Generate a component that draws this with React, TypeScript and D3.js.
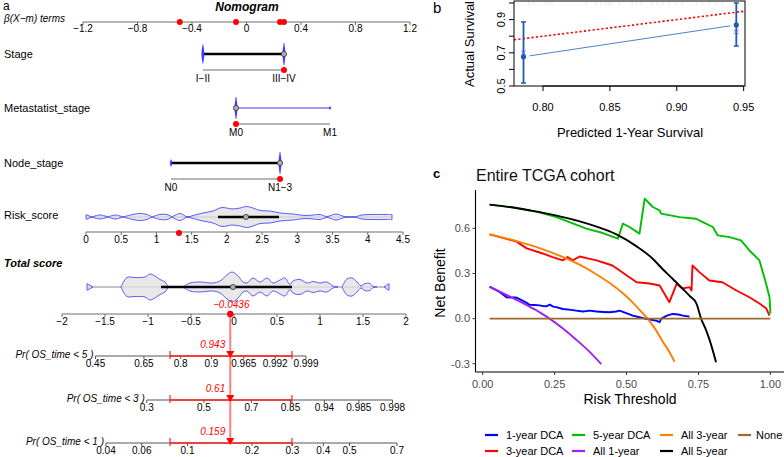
import React from "react";
import * as d3 from "d3";

const FONT = "'Liberation Sans', Arial, Helvetica, sans-serif";

// ---------------- Panel a : nomogram data ----------------
const betaTicks = [-1.2, -0.8, -0.4, 0, 0.4, 0.8, 1.2];
const betaSelected = [-0.49, -0.077, 0.246, 0.275];

const stageLevels = ["I−II", "III−IV"];
const stageBeta = [-0.32, 0.275];
const stageDensity = [9.5, 11];
const stageSel = 1;

const metLevels = ["M0", "M1"];
const metBeta = [-0.077, 0.613];
const metDensity = [11, 1.5];
const metSel = 0;

const nodeLevels = ["N0", "N1−3"];
const nodeBeta = [-0.554, 0.246];
const nodeDensity = [3.5, 11];
const nodeSel = 1;

const riskTicks = [0, 0.5, 1, 1.5, 2, 2.5, 3, 3.5, 4, 4.5];
const riskValue = 1.32;
const riskBox = [1.874, 2.271, 2.74];
const riskViolin: [number, number][] = [
  [0, 2.3], [0.085, 0], [0.199, 2], [0.312, 0], [0.412, 2], [0.525, 0],
  [0.667, 2.5], [0.767, 3.5], [0.866, 2.5], [0.937, 0], [1.05, 2.5], [1.15, 2.5],
  [1.221, 0], [1.334, 3.5], [1.434, 0.3], [1.547, 2], [1.661, 4], [1.803, 6],
  [1.931, 9.5], [2.073, 8], [2.186, 9], [2.286, 10.5], [2.371, 9], [2.47, 6.5],
  [2.612, 6], [2.754, 4], [2.939, 3], [3.109, 1.5], [3.223, 2], [3.322, 2.5],
  [3.421, 0.5], [3.549, 3], [3.677, 0.3], [3.819, 0], [3.918, 2], [4.032, 2.5],
  [4.245, 2.5], [4.344, 2.5],
];

const totalTicks = [-2, -1.5, -1, -0.5, 0, 0.5, 1, 1.5, 2];
const totalValue = -0.0436;
const totalCI = [-0.744, 0.674];
const totalBox = [-0.849, -0.012, 0.674];
const totalViolin: [number, number][] = [
  [-1.709, 3.3], [-1.64, 0], [-1.314, 0], [-1.244, 9.5], [-1.151, 9.5], [-1.035, 10],
  [-0.977, 13], [-0.919, 11], [-0.86, 7.5], [-0.802, 5], [-0.767, 0], [-0.593, 0],
  [-0.512, 4], [-0.395, 5], [-0.244, 4], [-0.163, 6], [-0.081, 12], [-0.023, 15],
  [0.047, 11], [0.105, 5], [0.151, 4], [0.221, 9], [0.302, 5], [0.384, 9],
  [0.453, 4], [0.535, 7], [0.593, 9], [0.651, 2.5], [0.686, 6], [0.767, 7.5],
  [0.849, 4], [0.919, 5.5], [1.0, 4], [1.081, 5], [1.151, 1], [1.209, 0],
  [1.256, 0], [1.314, 8], [1.372, 9], [1.43, 5], [1.477, 1], [1.523, 3.5],
  [1.581, 3.5], [1.616, 0.5], [1.663, 0], [1.744, 0], [1.802, 3.3],
];

const prLabels = ["Pr( OS_time < 5 )", "Pr( OS_time < 3 )", "Pr( OS_time < 1 )"];
const prTicks5 = [0.45, 0.65, 0.8, 0.9, 0.965, 0.992, 0.999];
const prTicks3 = [0.3, 0.5, 0.7, 0.85, 0.94, 0.985, 0.998];
const prTicks1 = [0.04, 0.06, 0.1, 0.2, 0.3, 0.4, 0.5, 0.7];
const prOffsets = [1.096, -0.0166, -1.71];
const prValues = [0.943, 0.61, 0.159];

// ---------------- Panel b : calibration data ----------------
const calPred = [0.7854, 0.9445];
const calObs = [0.676, 0.868];
const calLo = [0.518, 0.741];
const calHi = [0.886, 1.0];
const calKM = [0.699, 0.825];
const calRug = [0.7895, 0.7933, 0.8022, 0.8045, 0.8067, 0.8322, 0.8397, 0.8434, 0.8472,
  0.8494, 0.8516, 0.8569, 0.8666, 0.8696, 0.8734, 0.8816, 0.8853, 0.8891, 0.8943,
  0.8996, 0.904, 0.9145, 0.919, 0.9243, 0.9295, 0.934];
const bXTicks = [0.8, 0.85, 0.9, 0.95];
const bYTicks = [0.5, 0.6, 0.7, 0.8, 0.9, 1.0];
const bYLabels = [0.5, 0.7, 0.9];

// ---------------- Panel c : decision curves ----------------
const dca1: [number, number][] = [
  [0.024, 0.213], [0.06, 0.175], [0.083, 0.142], [0.1, 0.14], [0.117, 0.14], [0.13, 0.128],
  [0.15, 0.108], [0.163, 0.092], [0.18, 0.09], [0.198, 0.088], [0.21, 0.083], [0.221, 0.082],
  [0.233, 0.093], [0.245, 0.08], [0.256, 0.076], [0.279, 0.064], [0.3, 0.06], [0.325, 0.053],
  [0.348, 0.047], [0.36, 0.05], [0.372, 0.053], [0.395, 0.047], [0.42, 0.044], [0.441, 0.042],
  [0.464, 0.047], [0.476, 0.053], [0.499, 0.036], [0.522, 0.02], [0.545, 0.009], [0.568, -0.002],
  [0.591, -0.009], [0.605, -0.015], [0.615, -0.024], [0.62, -0.002], [0.64, 0.02], [0.661, 0.031],
  [0.68, 0.027], [0.696, 0.02], [0.719, 0.013],
];
const dca3: [number, number][] = [
  [0.024, 0.56], [0.118, 0.512], [0.153, 0.467], [0.208, 0.433], [0.243, 0.409], [0.278, 0.387],
  [0.295, 0.409], [0.313, 0.387], [0.337, 0.413], [0.365, 0.4], [0.396, 0.387], [0.451, 0.353],
  [0.476, 0.32], [0.51, 0.275], [0.535, 0.242], [0.58, 0.233], [0.615, 0.22], [0.649, 0.109],
  [0.674, 0.231], [0.694, 0.2], [0.719, 0.209], [0.726, 0.187], [0.729, 0.353], [0.753, 0.309],
  [0.788, 0.253], [0.833, 0.242], [0.882, 0.187], [0.927, 0.142], [0.962, 0.1], [0.986, 0.067],
  [0.997, 0.02],
];
const dca5: [number, number][] = [
  [0.024, 0.758], [0.12, 0.735], [0.2, 0.705], [0.256, 0.675], [0.302, 0.642], [0.36, 0.598],
  [0.418, 0.569], [0.47, 0.531], [0.487, 0.631], [0.51, 0.609], [0.545, 0.565], [0.563, 0.798],
  [0.591, 0.742], [0.615, 0.72], [0.62, 0.698], [0.684, 0.675], [0.742, 0.664], [0.765, 0.642],
  [0.8, 0.609], [0.817, 0.553], [0.858, 0.542], [0.898, 0.52], [0.927, 0.453], [0.962, 0.387],
  [0.985, 0.231], [0.997, 0.142], [1.0, 0.033],
];
const all1: [number, number][] = [
  [0.024, 0.212], [0.07, 0.17], [0.12, 0.122], [0.16, 0.083], [0.2, 0.04], [0.24, -0.01],
  [0.28, -0.068], [0.325, -0.14], [0.37, -0.218], [0.412, -0.302],
];
const all3: [number, number][] = [
  [0.024, 0.56], [0.118, 0.515], [0.2, 0.467], [0.278, 0.41], [0.34, 0.355], [0.396, 0.293],
  [0.45, 0.225], [0.486, 0.17], [0.52, 0.11], [0.545, 0.058], [0.573, 0.0], [0.6, -0.07],
  [0.625, -0.15], [0.65, -0.225], [0.667, -0.287],
];
const all5: [number, number][] = [
  [0.024, 0.758], [0.1, 0.74], [0.163, 0.72], [0.22, 0.7], [0.278, 0.675], [0.34, 0.645],
  [0.396, 0.612], [0.465, 0.56], [0.535, 0.48], [0.59, 0.4], [0.625, 0.33], [0.66, 0.265],
  [0.694, 0.2], [0.72, 0.15], [0.743, 0.1], [0.759, 0.0], [0.775, -0.07], [0.79, -0.15],
  [0.811, -0.29],
];
const noneLine: [number, number][] = [[0.024, 0], [1.0, 0]];

const seriesNames = ["1-year DCA", "3-year DCA", "5-year DCA", "All 1-year", "All 3-year", "All 5-year", "None"];
const seriesData = [dca1, dca3, dca5, all1, all3, all5, noneLine];
const seriesColors = ["#0000FF", "#FF0000", "#00BE00", "#A020F0", "#FF7F00", "#000000", "#9C6A2C"];
const cXTicks = [0, 0.25, 0.5, 0.75, 1.0];
const cYTicks = [-0.3, 0, 0.3, 0.6];

// ---------------- helpers ----------------
const minus = (v: number) => (v < 0 ? "−" + String(Math.abs(v)) : String(v));
const cloglog = (p: number) => Math.log(-Math.log(1 - p));

function violinPaths(pts: [number, number][], xs: (v: number) => number, y: number): string[] {
  const segs: [number, number][][] = [];
  let cur: [number, number][] = [];
  for (const p of pts) {
    cur.push(p);
    if (p[1] === 0) {
      if (cur.length > 1) segs.push(cur);
      cur = [p];
    }
  }
  if (cur.length > 1) segs.push(cur);
  const line = d3.line<[number, number]>().curve(d3.curveCatmullRom.alpha(0.5));
  return segs
    .filter((s) => s.some((p) => p[1] > 0))
    .map((s) => {
      const top = s.map((p) => [xs(p[0]), y - p[1]] as [number, number]);
      const bot = s.slice().reverse().map((p) => [xs(p[0]), y + p[1]] as [number, number]);
      const a = line(top) || "";
      const b = (line(bot) || "").replace(/^M/, "L");
      return a + b + "Z";
    });
}

function lens(x: number, y: number, h: number, w = 1.6) {
  return `M${x},${y - h} Q${x + 2 * w},${y} ${x},${y + h} Q${x - 2 * w},${y} ${x},${y - h}Z`;
}

const AXIS_GRAY = "#6e6e6e";

function CategoryRow({ label, levels, beta, density, sel, y, xs, thick }: any) {
  const x0 = xs(beta[0]);
  const x1 = xs(beta[beta.length - 1]);
  const ay = y + 16;
  return (
    <g>
      <text x={4} y={y} dy="0.35em" fontSize={11}>{label}</text>
      {thick ? (
        <line x1={x0} x2={x1} y1={y} y2={y} stroke="#000" strokeWidth={2.6} />
      ) : (
        <line x1={x0} x2={x1} y1={y} y2={y} stroke="#3535ff" strokeWidth={1} />
      )}
      {beta.map((b: number, i: number) => (
        <path key={i} d={lens(xs(b), y, density[i], density[i] > 4 ? 1.3 : 1.0)} fill="#3b3bff" stroke="#3b3bff" strokeWidth={0.4} />
      ))}
      <circle cx={xs(beta[sel === 0 ? 0 : beta.length - 1])} cy={y} r={2.6} fill="#b0b0b0" stroke="#333" strokeWidth={0.8} />
      <line x1={x0} x2={x1} y1={ay} y2={ay} stroke={AXIS_GRAY} strokeWidth={1} />
      <circle cx={xs(beta[sel])} cy={ay} r={3} fill="#ff0000" />
      {levels.map((l: string, i: number) => (
        <text key={l} x={xs(beta[i])} y={ay + 8} dy="0.35em" fontSize={10} textAnchor="middle">{l}</text>
      ))}
    </g>
  );
}

function PanelA() {
  const xb = d3.scaleLinear().domain([-1.2, 1.2]).range([83, 410]);
  const xr = d3.scaleLinear().domain([0, 4.5]).range([86, 403]);
  const xt = d3.scaleLinear().domain([-2, 2]).range([62, 406]);
  const topY = 22;
  const riskY = 217;
  const riskAxisY = 232;
  const totalY = 287;
  const totalAxisY = 314;
  const prY = [356, 400, 443];
  const prTicks = [prTicks5, prTicks3, prTicks1];
  const xSel = xt(totalValue);

  return (
    <g fontFamily={FONT}>
      <text x={3} y={10} fontSize={12}>a</text>
      <text x={247} y={11} fontSize={12} fontWeight="bold" fontStyle="italic" textAnchor="middle">Nomogram</text>
      <text x={4} y={18} dy="0.35em" fontSize={10} fontStyle="italic">β(X−m) terms</text>
      <line x1={xb(-1.2)} x2={xb(1.2)} y1={topY} y2={topY} stroke={AXIS_GRAY} />
      {betaTicks.map((t) => (
        <g key={t}>
          <line x1={xb(t)} x2={xb(t)} y1={topY} y2={topY + 3} stroke={AXIS_GRAY} />
          <text x={xb(t)} y={topY + 6} dy="0.35em" fontSize={10} textAnchor="middle">{minus(t)}</text>
        </g>
      ))}
      {betaSelected.map((b, i) => (
        <circle key={i} cx={xb(b)} cy={topY} r={3} fill="#ff0000" />
      ))}

      <CategoryRow label="Stage" levels={stageLevels} beta={stageBeta} density={stageDensity} sel={stageSel} y={54} xs={xb} thick />
      <CategoryRow label="Metastatist_stage" levels={metLevels} beta={metBeta} density={metDensity} sel={metSel} y={108} xs={xb} thick={false} />
      <CategoryRow label="Node_stage" levels={nodeLevels} beta={nodeBeta} density={nodeDensity} sel={nodeSel} y={163} xs={xb} thick />

      {/* Risk score */}
      <text x={4} y={215} dy="0.35em" fontSize={11}>Risk_score</text>
      <line x1={xr(riskViolin[0][0])} x2={xr(riskViolin[riskViolin.length - 1][0])} y1={riskY} y2={riskY} stroke="#777" />
      {violinPaths(riskViolin, xr, riskY).map((d, i) => (
        <path key={i} d={d} fill="#e2e2e2" fillOpacity={0.8} stroke="#4a4aff" strokeWidth={0.9} />
      ))}
      <line x1={xr(riskBox[0])} x2={xr(riskBox[2])} y1={riskY} y2={riskY} stroke="#000" strokeWidth={2.6} />
      <circle cx={xr(riskBox[1])} cy={riskY} r={2.6} fill="#b0b0b0" stroke="#333" strokeWidth={0.8} />
      <line x1={xr(0)} x2={xr(4.5)} y1={riskAxisY} y2={riskAxisY} stroke={AXIS_GRAY} />
      {riskTicks.map((t) => (
        <g key={t}>
          <line x1={xr(t)} x2={xr(t)} y1={riskAxisY} y2={riskAxisY + 3} stroke={AXIS_GRAY} />
          <text x={xr(t)} y={riskAxisY + 7} dy="0.35em" fontSize={10} textAnchor="middle">{String(t)}</text>
        </g>
      ))}
      <circle cx={xr(riskValue)} cy={riskAxisY + 1} r={3} fill="#ff0000" />

      {/* Total score */}
      <text x={4} y={263} dy="0.35em" fontSize={11} fontWeight="bold" fontStyle="italic">Total score</text>
      <line x1={xt(totalViolin[0][0])} x2={xt(totalViolin[totalViolin.length - 1][0])} y1={totalY} y2={totalY} stroke="#888" />
      {violinPaths(totalViolin, xt, totalY).map((d, i) => (
        <path key={i} d={d} fill="#e2e2e2" fillOpacity={0.8} stroke="#4a4aff" strokeWidth={0.9} />
      ))}
      <line x1={xt(totalBox[0])} x2={xt(totalBox[2])} y1={totalY} y2={totalY} stroke="#000" strokeWidth={2.6} />
      <circle cx={xt(totalBox[1])} cy={totalY} r={2.6} fill="#b0b0b0" stroke="#333" strokeWidth={0.8} />
      <line x1={xt(-2)} x2={xt(2)} y1={totalAxisY} y2={totalAxisY} stroke={AXIS_GRAY} />
      {totalTicks.map((t) => (
        <g key={t}>
          <line x1={xt(t)} x2={xt(t)} y1={totalAxisY} y2={totalAxisY + 3} stroke={AXIS_GRAY} />
          <text x={xt(t)} y={totalAxisY + 7} dy="0.35em" fontSize={10} textAnchor="middle">{minus(t)}</text>
        </g>
      ))}

      {/* red vertical guide */}
      <line x1={xSel} x2={xSel} y1={totalAxisY} y2={prY[2]} stroke="#ff0000" strokeOpacity={0.5} strokeWidth={2} />
      <circle cx={xSel} cy={totalAxisY} r={3.2} fill="#ff0000" />
      <text x={xSel + 1} y={totalAxisY - 6} fontSize={10} fontStyle="italic" fill="#ff0000" textAnchor="middle">{minus(totalValue)}</text>

      {/* probability axes */}
      {prY.map((y, k) => {
        const ticks = prTicks[k];
        const px = (p: number) => xt(cloglog(p) - prOffsets[k]);
        const x0 = px(ticks[0]);
        const x1 = px(ticks[ticks.length - 1]);
        return (
          <g key={k}>
            <text x={x0 - 2} y={y} dy="0.2em" fontSize={10} fontStyle="italic" textAnchor="end">{prLabels[k]}</text>
            <line x1={x0} x2={x1} y1={y} y2={y} stroke="#555" />
            {ticks.map((t) => (
              <g key={t}>
                <line x1={px(t)} x2={px(t)} y1={y} y2={y + 3} stroke="#555" />
                <text x={px(t)} y={y + 7} dy="0.35em" fontSize={10} textAnchor="middle">{String(t)}</text>
              </g>
            ))}
            <line x1={xt(totalCI[0])} x2={xt(totalCI[1])} y1={y} y2={y} stroke="#ff2020" strokeWidth={1.6} />
            <line x1={xt(totalCI[0])} x2={xt(totalCI[0])} y1={y - 5} y2={y + 3} stroke="#ff2020" strokeWidth={1.2} />
            <line x1={xt(totalCI[1])} x2={xt(totalCI[1])} y1={y - 5} y2={y + 3} stroke="#ff2020" strokeWidth={1.2} />
            <path d={`M${xSel - 4},${y - 5} L${xSel + 4},${y - 5} L${xSel},${y + 2} Z`} fill="#ff0000" />
            <text x={xSel - 5} y={y - 8} fontSize={10} fontStyle="italic" fill="#ff0000" textAnchor="end">{String(prValues[k])}</text>
          </g>
        );
      })}
    </g>
  );
}

function PanelB() {
  const xs = d3.scaleLinear().domain([0.7783, 0.951]).range([514, 745]);
  const ys = d3.scaleLinear().domain([0.5, 1.0]).range([86, 3]);
  const fx0 = xs(0.7783), fx1 = xs(0.951), fy0 = 1, fy1 = ys(0.5);
  const dark = "#1E5BB0";
  const p0: [number, number] = [xs(calPred[0]), ys(calObs[0])];
  const p1: [number, number] = [xs(calPred[1]), ys(calObs[1])];
  const dx = p1[0] - p0[0], dy = p1[1] - p0[1];
  const len = Math.hypot(dx, dy);
  const g = 6;
  return (
    <g fontFamily={FONT}>
      <text x={433} y={13} fontSize={15}>b</text>
      {calRug.map((r, i) => (
        <line key={i} x1={xs(r)} x2={xs(r)} y1={fy0} y2={fy0 + 4} stroke="#dadada" strokeWidth={0.7} />
      ))}
      <line x1={xs(0.7783)} y1={ys(0.7783)} x2={xs(0.951)} y2={ys(0.951)} stroke="#ff0000" strokeWidth={1.6} strokeDasharray="2.2,2.2" />
      <line x1={p0[0] + (dx / len) * g} y1={p0[1] + (dy / len) * g} x2={p1[0] - (dx / len) * g} y2={p1[1] - (dy / len) * g} stroke="#4a82c8" strokeWidth={1} />
      {calPred.map((p, i) => (
        <g key={i}>
          <line x1={xs(p)} x2={xs(p)} y1={ys(calLo[i])} y2={ys(calHi[i])} stroke={dark} strokeWidth={1.8} />
          <line x1={xs(p) - 2.5} x2={xs(p) + 2.5} y1={ys(calLo[i])} y2={ys(calLo[i])} stroke={dark} strokeWidth={1.5} />
          <line x1={xs(p) - 2.5} x2={xs(p) + 2.5} y1={ys(calHi[i])} y2={ys(calHi[i])} stroke={dark} strokeWidth={1.5} />
          <circle cx={xs(p)} cy={ys(calObs[i])} r={2.6} fill={dark} />
          <path d={`M${xs(p) - 2.2},${ys(calKM[i]) - 2.2} L${xs(p) + 2.2},${ys(calKM[i]) + 2.2} M${xs(p) - 2.2},${ys(calKM[i]) + 2.2} L${xs(p) + 2.2},${ys(calKM[i]) - 2.2}`} stroke="#5a5aff" strokeWidth={1} />
        </g>
      ))}
      <rect x={fx0} y={fy0} width={fx1 - fx0} height={fy1 - fy0} fill="none" stroke="#000" strokeWidth={1} />
      {bYTicks.map((t) => (
        <line key={t} x1={fx0} x2={fx0 - 5} y1={ys(t)} y2={ys(t)} stroke="#000" />
      ))}
      {bYLabels.map((t) => (
        <text key={t} transform={`translate(${501},${ys(t)}) rotate(-90)`} fontSize={11} textAnchor="middle" dy="0.35em">{t.toFixed(1)}</text>
      ))}
      {bXTicks.map((t) => (
        <g key={t}>
          <line x1={xs(t)} x2={xs(t)} y1={fy1} y2={fy1 + 5} stroke="#000" />
          <text x={xs(t)} y={107} dy="0.35em" fontSize={11} textAnchor="middle">{t.toFixed(2)}</text>
        </g>
      ))}
      <line x1={xs(0.8)} x2={xs(0.95)} y1={fy1} y2={fy1} stroke="#000" />
      <text x={630} y={132} dy="0.35em" fontSize={13} textAnchor="middle">Predicted 1-Year Survival</text>
      <text transform={`translate(469,44) rotate(-90)`} fontSize={13} textAnchor="middle" dy="0.35em">Actual Survival</text>
    </g>
  );
}

function PanelC() {
  const xs = d3.scaleLinear().domain([-0.025, 1.049]).range([475.5, 784.5]);
  const ys = d3.scaleLinear().domain([-0.355, 0.855]).range([372, 190]);
  const line = d3.line<[number, number]>().x((d) => xs(d[0])).y((d) => ys(d[1]));
  const smooth = d3.line<[number, number]>().x((d) => xs(d[0])).y((d) => ys(d[1])).curve(d3.curveMonotoneX);
  const legendCols = [485, 572, 660, 738];
  const legendRows = [435, 451];
  return (
    <g fontFamily={FONT}>
      <text x={433} y={178} fontSize={13} fontWeight="bold">c</text>
      <text x={476} y={181} fontSize={16} fill="#111">Entire TCGA cohort</text>
      {seriesData.map((s, i) => (
        <path key={i} d={(i >= 3 ? smooth(s) : line(s)) || ""} fill="none" stroke={seriesColors[i]} strokeWidth={1.9} strokeLinejoin="round" />
      ))}
      <line x1={475.5} x2={475.5} y1={190} y2={372} stroke="#000" strokeWidth={1.1} />
      <line x1={475.5} x2={784} y1={372} y2={372} stroke="#000" strokeWidth={1.1} />
      {cYTicks.map((t) => (
        <g key={t}>
          <line x1={475.5} x2={472.5} y1={ys(t)} y2={ys(t)} stroke="#333" />
          <text x={470} y={ys(t)} dy="0.35em" fontSize={11} fill="#4d4d4d" textAnchor="end">{t.toFixed(1)}</text>
        </g>
      ))}
      {cXTicks.map((t) => (
        <g key={t}>
          <line x1={xs(t)} x2={xs(t)} y1={372} y2={375} stroke="#333" />
          <text x={xs(t)} y={384} dy="0.35em" fontSize={11} fill="#4d4d4d" textAnchor="middle">{t.toFixed(2)}</text>
        </g>
      ))}
      <text x={630} y={399} dy="0.35em" fontSize={14} textAnchor="middle">Risk Threshold</text>
      <text transform={`translate(440,283) rotate(-90)`} fontSize={14} textAnchor="middle" dy="0.35em">Net Benefit</text>
      {seriesNames.map((n, i) => {
        const cx = legendCols[Math.floor(i / 2)];
        const cy = legendRows[i % 2];
        return (
          <g key={n}>
            <line x1={cx} x2={cx + 13} y1={cy} y2={cy} stroke={seriesColors[i]} strokeWidth={2.2} />
            <text x={cx + (i === 6 ? 18 : 21)} y={cy} dy="0.35em" fontSize={11}>{n}</text>
          </g>
        );
      })}
    </g>
  );
}

export default function App() {
  return (
    <svg width={784} height={457} viewBox="0 0 784 457" style={{ position: "absolute", left: 0, top: 0, background: "#fff" }}>
      <rect width={784} height={457} fill="#fff" />
      <PanelA />
      <PanelB />
      <PanelC />
    </svg>
  );
}
